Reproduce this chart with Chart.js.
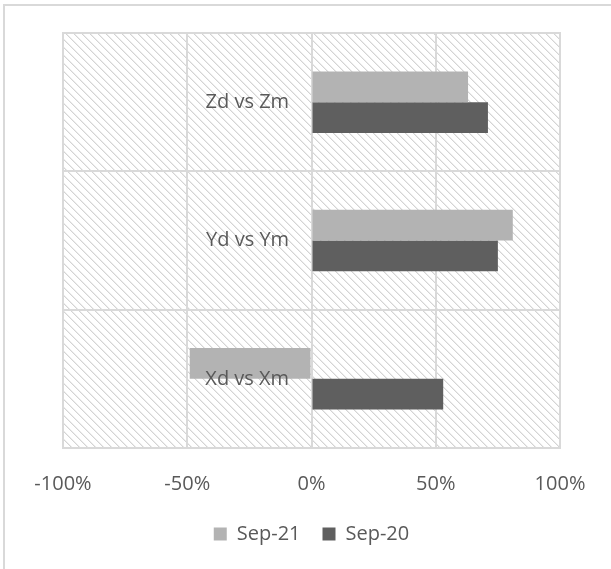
<!DOCTYPE html>
<html>
<head>
<meta charset="utf-8">
<script src="https://cdn.jsdelivr.net/npm/chart.js@4.4.1/dist/chart.umd.min.js"></script>
<style>
  html, body { margin: 0; padding: 0; background: #ffffff; }
  #wrap { position: relative; width: 611px; height: 569px; }
</style>
</head>
<body>
<div id="wrap"><canvas id="c" width="611" height="569"></canvas></div>
<script>
// Categories, listed top to bottom
const categories = ['Zd vs Zm', 'Yd vs Ym', 'Xd vs Xm'];
// Series values (fractions)
const sep21 = [0.63, 0.81, -0.49];
const sep20 = [0.71, 0.75, 0.53];
const seriesNames = ['Sep-21', 'Sep-20'];
const xTicks = [-1, -0.5, 0, 0.5, 1];

const TEXT = '#595959';
const GRID = '#d9d9d9';
const FONT = "'Open Sans', sans-serif";

// Diagonal hatch used behind the plot
function makeHatch(ctx) {
  const p = document.createElement('canvas');
  p.width = 8; p.height = 8;
  const g = p.getContext('2d');
  g.fillStyle = '#ffffff';
  g.fillRect(0, 0, 8, 8);
  for (let i = 0; i < 8; i++) {
    g.fillStyle = '#d4d4d4';
    g.fillRect(i, i, 1, 1);
    g.fillStyle = '#ececec';
    g.fillRect((i + 1) % 8, i, 1, 1);
  }
  return ctx.createPattern(p, 'repeat');
}

const framePlugin = {
  id: 'frame',
  beforeDraw(chart) {
    const ctx = chart.ctx;
    ctx.save();
    ctx.fillStyle = GRID;
    ctx.fillRect(3, 4, 2, chart.height - 4);
    ctx.fillRect(3, 4, chart.width - 3, 2);
    const a = chart.chartArea;
    ctx.fillStyle = makeHatch(ctx);
    ctx.fillRect(a.left, a.top, a.right - a.left, a.bottom - a.top);
    ctx.restore();
  },
  afterDatasetsDraw(chart) {
    const ctx = chart.ctx;
    const a = chart.chartArea;
    ctx.save();
    ctx.strokeStyle = GRID;
    ctx.lineWidth = 2;
    ctx.strokeRect(a.left, a.top, a.right - a.left, a.bottom - a.top);
    ctx.restore();
  }
};

new Chart(document.getElementById('c'), {
  type: 'bar',
  data: {
    labels: categories,
    datasets: [
      { label: seriesNames[0], data: sep21, backgroundColor: '#b3b3b3', borderWidth: 0 },
      { label: seriesNames[1], data: sep20, backgroundColor: '#5f5f5f', borderWidth: 0 }
    ]
  },
  options: {
    indexAxis: 'y',
    responsive: false,
    animation: false,
    datasets: { bar: { categoryPercentage: 0.444, barPercentage: 1.0 } },
    layout: { padding: { left: 63, right: 51, top: 33, bottom: 17 } },
    scales: {
      x: {
        min: -1, max: 1,
        afterBuildTicks(scale) { scale.ticks = xTicks.map(v => ({ value: v })); },
        afterFit(scale) { scale.height -= 18; },
        ticks: {
          color: TEXT,
          font: { family: FONT, size: 20 },
          padding: 24,
          callback: v => Math.round(v * 100) + '%'
        },
        grid: { color: GRID, lineWidth: 2, drawTicks: false },
        border: { display: false }
      },
      y: {
        // category labels sit just left of the zero line, above the bars
        position: { x: -0.09 },
        ticks: {
          z: 1,
          color: TEXT,
          font: { family: FONT, size: 20 }
        },
        grid: { color: GRID, lineWidth: 2, offset: true, drawTicks: false },
        border: { display: false }
      }
    },
    plugins: {
      legend: {
        position: 'bottom',
        maxHeight: 50,
        labels: {
          color: TEXT,
          font: { family: FONT, size: 20 },
          boxWidth: 13,
          boxHeight: 13,
          padding: 22
        }
      },
      tooltip: { enabled: false }
    }
  },
  plugins: [framePlugin]
});
</script>
</body>
</html>
